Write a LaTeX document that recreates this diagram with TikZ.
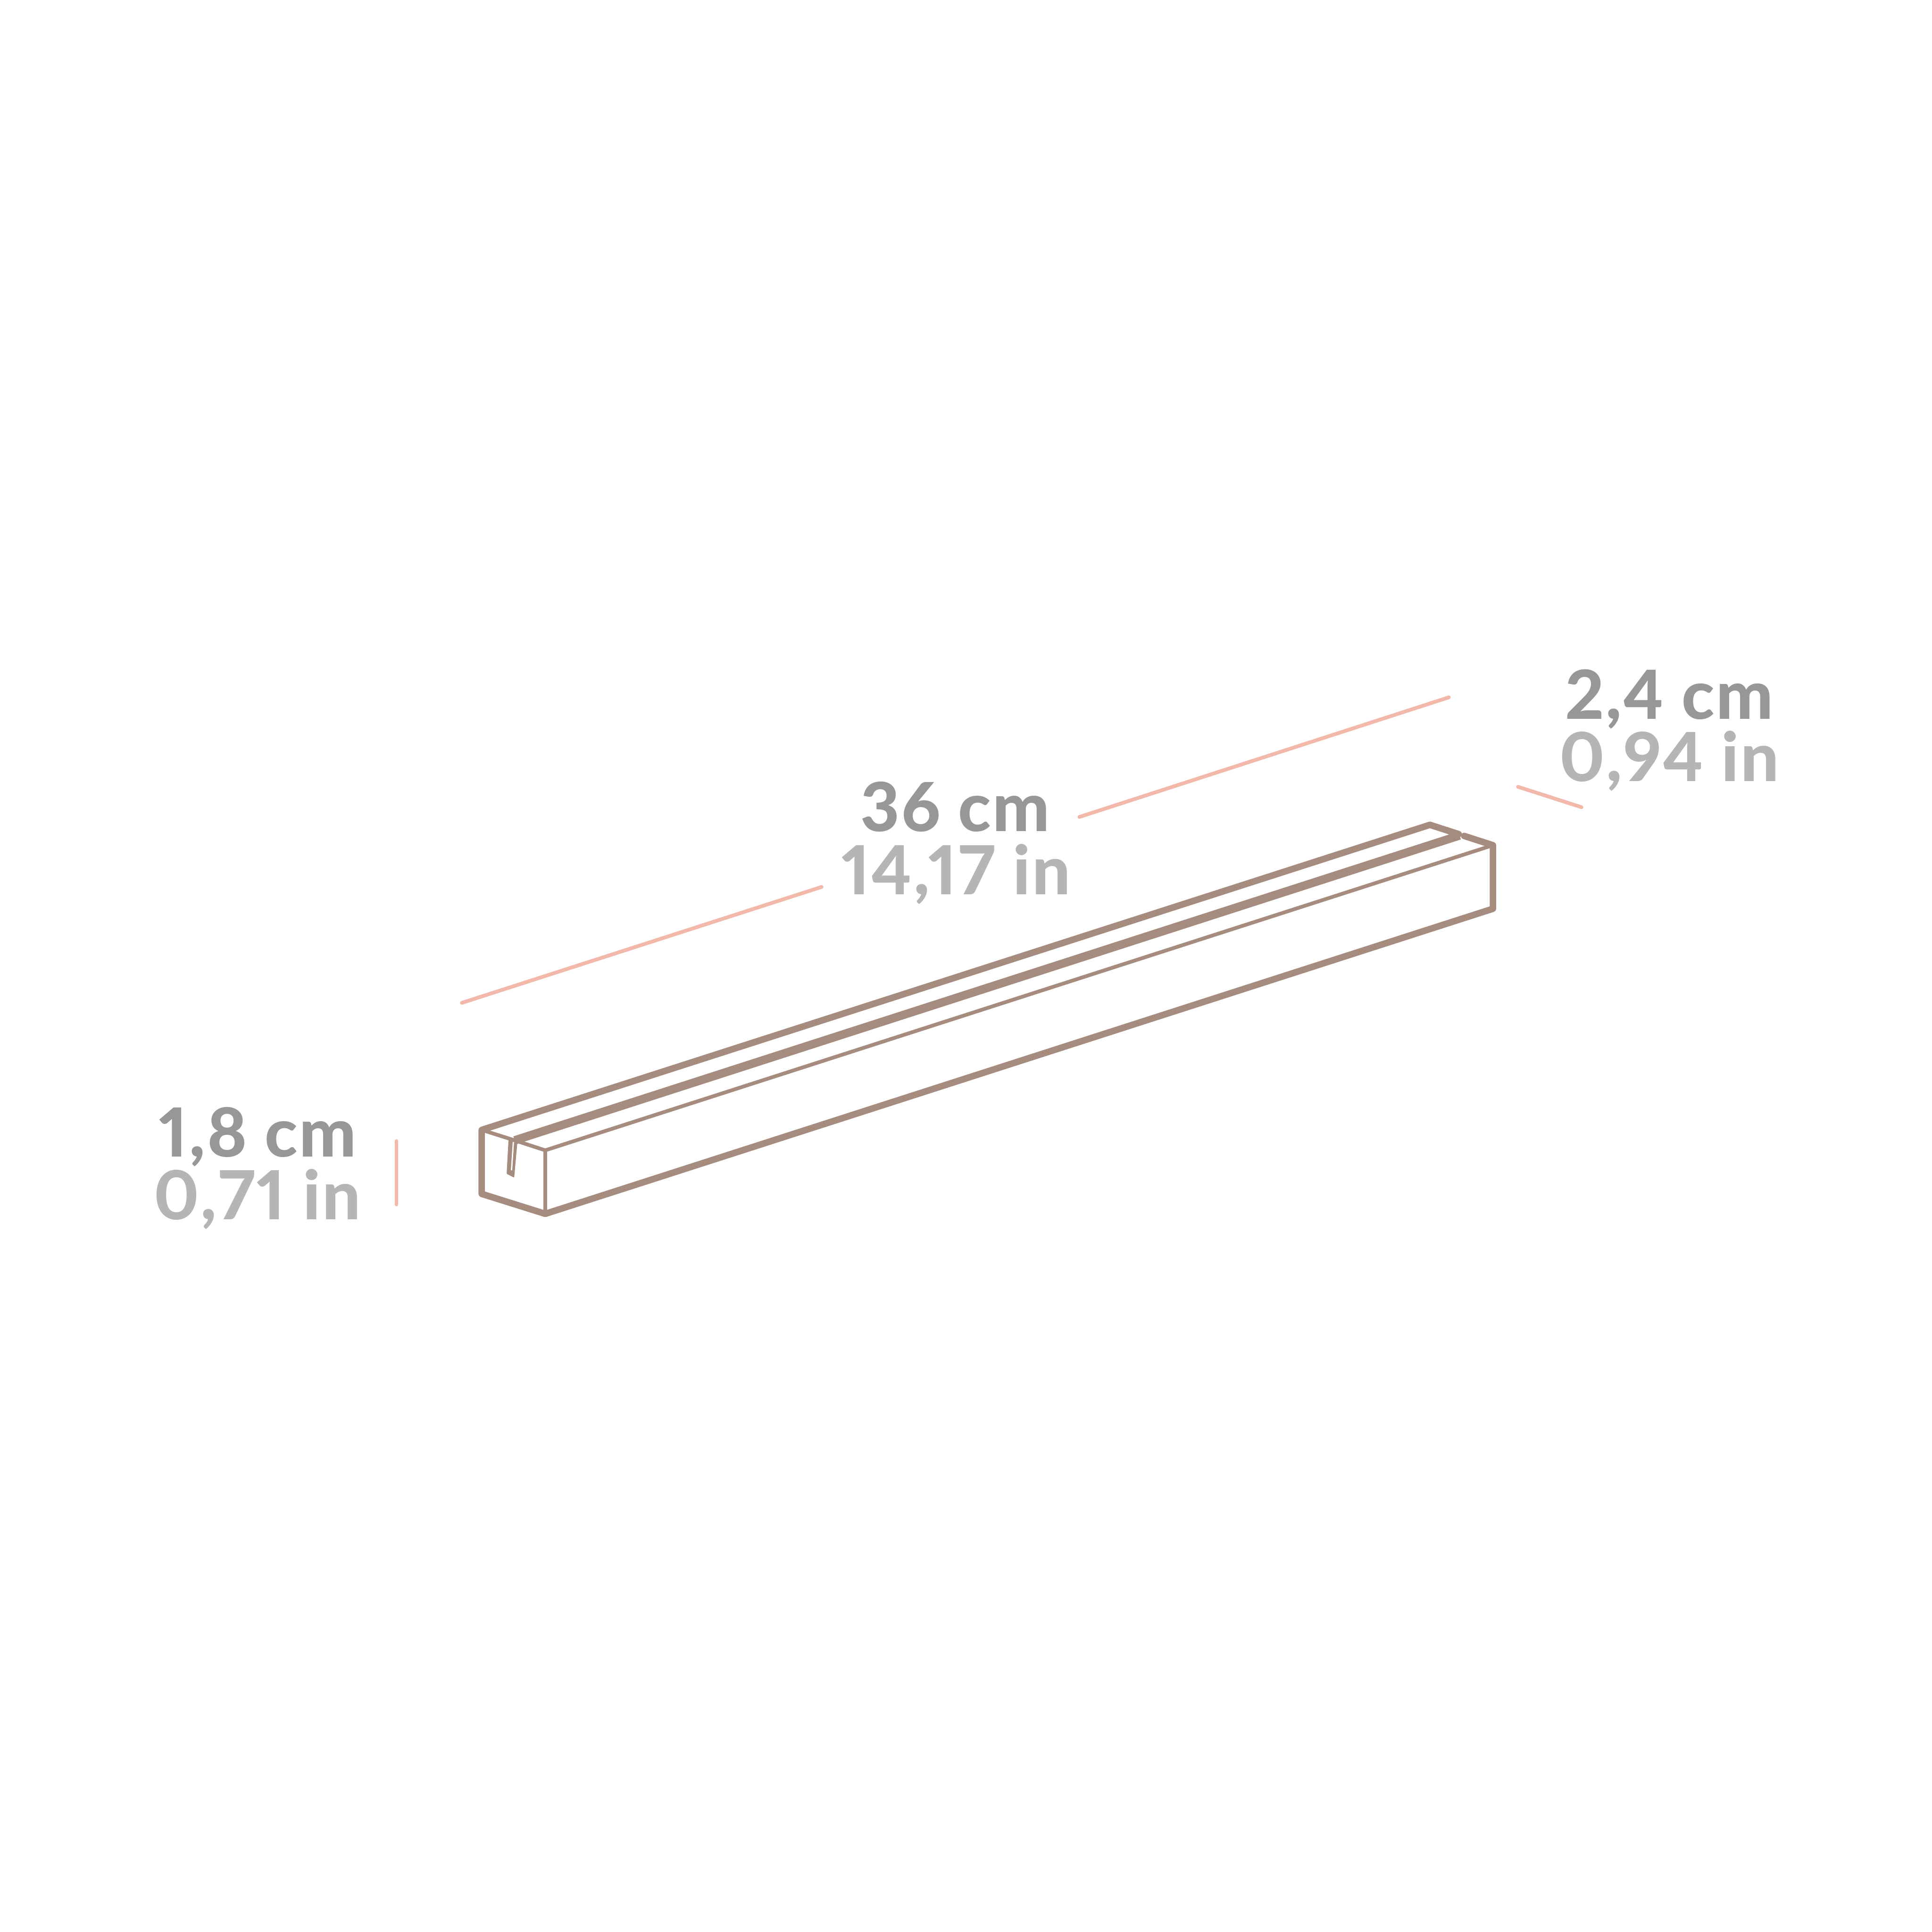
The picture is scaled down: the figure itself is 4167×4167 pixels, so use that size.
\documentclass[tikz,border=0pt]{standalone}
\usepackage{fontspec}
\newfontfamily\dimfont{Lato Heavy}[Numbers={Lining,Proportional},LetterSpace=2.5]
\definecolor{boxc}{HTML}{A58C7E}
\definecolor{pinkc}{HTML}{F2B9AB}
\definecolor{darkt}{HTML}{979797}
\definecolor{lightt}{HTML}{B5B5B5}
\newcommand{\pxu}{*0.2845pt}
\tikzset{
  thick edge/.style={draw=boxc,line width=14\pxu,line cap=round,line join=round},
  thin edge/.style={draw=boxc,line width=8\pxu,line cap=round,line join=round},
  ridge edge/.style={draw=boxc,line width=18\pxu},
  measure/.style={draw=pinkc,line width=8\pxu,line cap=round},
  cmlabel/.style={text=darkt,inner sep=0pt,anchor=base,font=\dimfont\fontsize{41.5}{41.5}\selectfont},
  inlabel/.style={text=lightt,inner sep=0pt,anchor=base,font=\dimfont\fontsize{41.5}{41.5}\selectfont},
}
\begin{document}
\begin{tikzpicture}[x=0.01cm,y=-0.01cm]
\useasboundingbox (0,0) rectangle (4167,4167);
% box corners
\coordinate (tl) at (1039,2437);
\coordinate (bl) at (1039,2575);
\coordinate (bf) at (1176,2618);
\coordinate (tf) at (1176,2481);
\coordinate (tbk) at (3084,1779);
\coordinate (foldA) at (3146,1799);
\coordinate (foldB) at (3158,1803);
\coordinate (tr) at (3220,1823);
\coordinate (br) at (3220,1960);
\coordinate (ridgeL) at (1110,2459.5);
\coordinate (ridgeR) at (3148,1802);
% tab
\fill[boxc,even odd rule,rounded corners=1.5\pxu]
  (1096.7,2459) -- (1092.7,2531.7) -- (1109,2540) -- (1115.7,2465.7) -- cycle
  (1106,2459) -- (1101.7,2525) -- (1104.7,2525) -- (1109,2459) -- cycle;
% thin edges
\draw[thin edge] (tl) -- (ridgeL) -- (tf) -- (tr);
\draw[thin edge] (tf) -- (bf);
% thick outline
\draw[thick edge] (foldA) -- (tbk) -- (tl) -- (bl) -- (bf) -- (br) -- (tr) -- (foldB);
\draw[ridge edge] (ridgeL) -- (ridgeR);
% measures
\draw[measure] (996,2163) -- (1772,1913);
\draw[measure] (2328,1762) -- (3125,1504);
\draw[measure] (3274,1697) -- (3411,1741);
\draw[measure] (855,2461) -- (855,2598);
% labels
\node[cmlabel] (lenCm) at (2060,1793) {36 cm};
\node[inlabel] (lenIn) at (2062,1929) {14,17 in};
\node[cmlabel] (wCm) at (3600,1551) {2,4 cm};
\node[inlabel] (wIn) at (3600,1685) {0,94 in};
\node[cmlabel] (hCm) at (556,2495) {1,8 cm};
\node[inlabel] (hIn) at (555,2630) {0,71 in};
\end{tikzpicture}
\end{document}
